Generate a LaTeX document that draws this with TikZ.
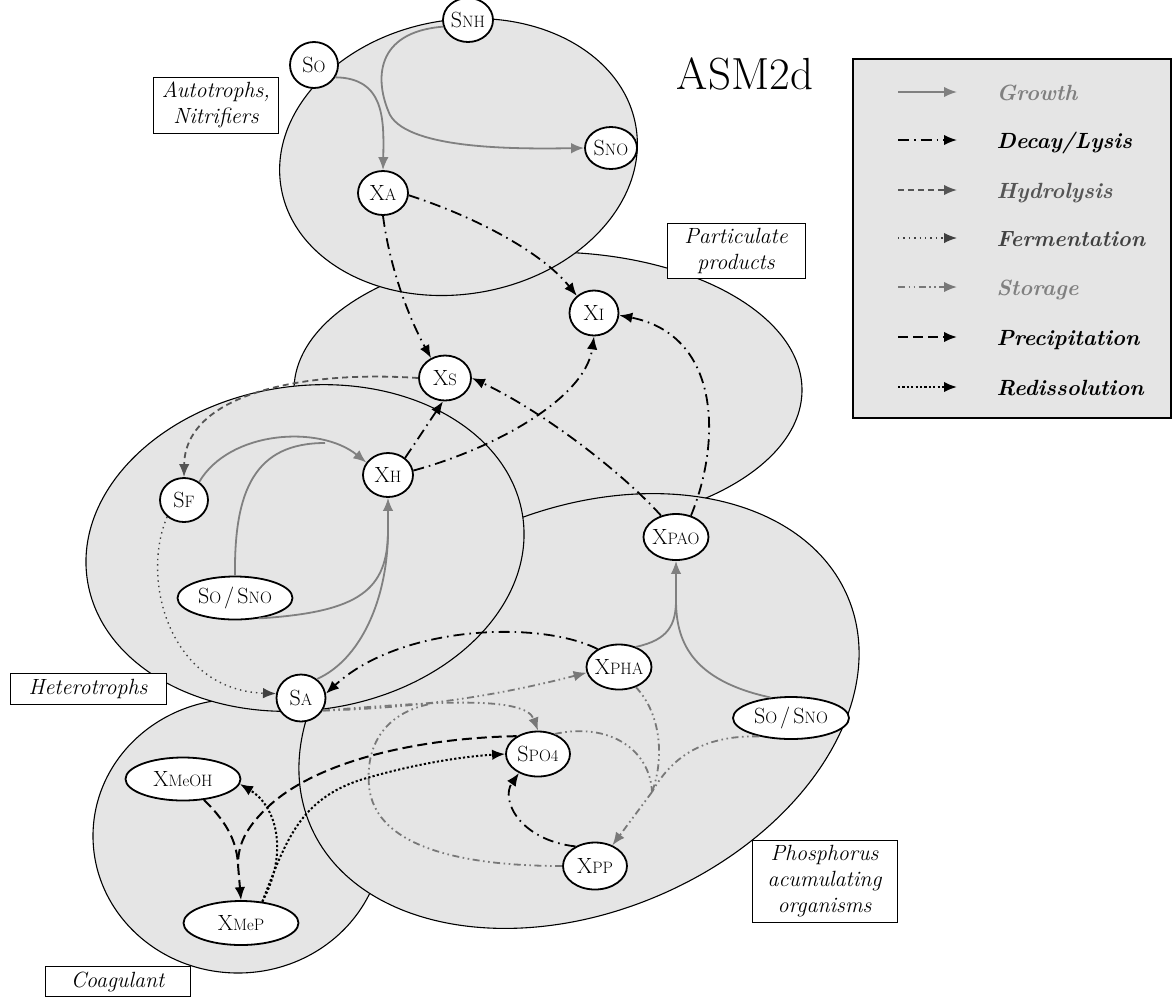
\documentclass[tikz,border=0pt]{standalone}
\usetikzlibrary{arrows.meta,shapes.geometric}
\definecolor{regfill}{RGB}{229,229,229}
\definecolor{grw}{RGB}{128,128,128}
\definecolor{hyd}{RGB}{85,85,85}
\definecolor{fer}{RGB}{64,64,64}
\definecolor{sto}{RGB}{120,120,120}
\newcommand{\nsub}[2]{#1{\fontsize{16.5}{17}\selectfont #2}}
\newcommand{\nsl}{\hspace{3pt}/\hspace{3pt}}
\begin{document}
\begin{tikzpicture}[x=1pt,y=-1pt,
  region/.style={draw=black, line width=1.1pt, fill=regfill},
  nd/.style={ellipse, draw=black, line width=1.8pt, fill=white, inner sep=-3pt, font=\fontsize{22}{24}\selectfont},
  lbl/.style={draw=black, line width=1pt, fill=white, align=center, inner sep=0pt, font=\fontsize{22}{26}\selectfont\itshape},
  tipa/.style={-{Latex[length=13pt,width=10.5pt]}},
  gline/.style={draw=grw, line width=1.8pt},
  growth/.style={gline, tipa},
  decay/.style={tipa, draw=black, line width=1.8pt, dash pattern=on 11pt off 5pt on 1.6pt off 5pt},
  hydro/.style={tipa, draw=hyd, line width=1.8pt, dash pattern=on 6pt off 4pt},
  ferm/.style={tipa, draw=fer, line width=1.4pt, dash pattern=on 1.4pt off 4pt},
  sline/.style={draw=sto, line width=1.8pt, dash pattern=on 7pt off 3.5pt on 1.6pt off 3.5pt on 1.6pt off 3.5pt},
  stor/.style={sline, tipa},
  pline/.style={draw=black, line width=2pt, dash pattern=on 10pt off 5pt},
  precip/.style={pline, tipa},
  rediss/.style={tipa, draw=black, line width=2pt, dash pattern=on 2.2pt off 2.2pt},
  legtxt/.style={anchor=base west, font=\fontsize{22}{24}\selectfont\bfseries\itshape},
]
\useasboundingbox (0,0) rectangle (1172,997);

% regions
\draw[region] (238,836) ellipse [x radius=145pt, y radius=137pt];
\draw[region] (548,390) ellipse [x radius=254pt, y radius=138pt];
\draw[region, rotate around={23:(579,711)}] (579,711) ellipse [x radius=292pt, y radius=201pt];
\draw[region, rotate around={8:(305,548)}] (305,548) ellipse [x radius=220pt, y radius=162pt];
\draw[region, rotate around={10:(458.5,157)}] (458.5,157) ellipse [x radius=180pt, y radius=137pt];

% labels
\node[lbl, minimum width=125pt, minimum height=56pt] (lAuto) at (216,105) {Autotrophs,\\Nitrifiers};
\node[lbl, minimum width=138pt, minimum height=55pt] (lPart) at (736,250.5) {Particulate\\products};
\node[lbl, minimum width=156pt, minimum height=31pt] (lHet) at (88,688.5) {Heterotrophs};
\node[lbl, minimum width=145pt, minimum height=30pt] (lCoag) at (117.5,981.5) {Coagulant};
\node[lbl, minimum width=145pt, minimum height=82pt] (lPhos) at (824.5,881) {Phosphorus\\acumulating\\organisms};
\node[font=\fontsize{45}{48}\selectfont] (title) at (745,74) {ASM2d};

% legend
\node[draw=black, line width=1.3pt, fill=regfill, minimum width=318pt, minimum height=359pt, inner sep=0pt] (leg) at (1012,238.5) {};
\coordinate (a1) at (898,92);  \coordinate (b1) at (957,92);
\coordinate (a2) at (898,140); \coordinate (b2) at (957,140);
\coordinate (a3) at (898,190); \coordinate (b3) at (957,190);
\coordinate (a4) at (898,238); \coordinate (b4) at (957,238);
\coordinate (a5) at (898,287); \coordinate (b5) at (957,287);
\coordinate (a6) at (898,337); \coordinate (b6) at (957,337);
\coordinate (a7) at (898,387); \coordinate (b7) at (957,387);
\draw[growth] (a1) -- (b1);
\draw[decay] (a2) -- (b2);
\draw[hydro] (a3) -- (b3);
\draw[ferm] (a4) -- (b4);
\draw[stor] (a5) -- (b5);
\draw[precip] (a6) -- (b6);
\draw[rediss] (a7) -- (b7);
\node[legtxt, text=grw] (t1) at (993,100) {Growth};
\node[legtxt, text=black] (t2) at (993,148) {Decay/Lysis};
\node[legtxt, text=hyd] (t3) at (993,198) {Hydrolysis};
\node[legtxt, text=fer] (t4) at (993,246) {Fermentation};
\node[legtxt, text=grw] (t5) at (993,295) {Storage};
\node[legtxt, text=black] (t6) at (993,345) {Precipitation};
\node[legtxt, text=black] (t7) at (993,395) {Redissolution};

% nodes
\node[nd, minimum width=48pt, minimum height=46pt] (SO1) at (314,65) {\nsub{S}{O}};
\node[nd, minimum width=50pt, minimum height=44pt] (SNH) at (468,20) {\nsub{S}{NH}};
\node[nd, minimum width=52pt, minimum height=42pt] (SNO) at (611,148) {\nsub{S}{NO}};
\node[nd, minimum width=50pt, minimum height=44pt] (XA) at (383,193) {\nsub{X}{A}};
\node[nd, minimum width=49pt, minimum height=45pt] (XI) at (594,313) {\nsub{X}{I}};
\node[nd, minimum width=52pt, minimum height=45pt] (XS) at (445,378) {\nsub{X}{S}};
\node[nd, minimum width=50pt, minimum height=44pt] (XH) at (388,475) {\nsub{X}{H}};
\node[nd, minimum width=48pt, minimum height=44pt] (SF) at (184,500) {\nsub{S}{F}};
\node[nd, minimum width=115pt, minimum height=43pt] (SOL) at (235,598) {\nsub{S}{O}\nsl\nsub{S}{NO}};
\node[nd, minimum width=49pt, minimum height=47pt] (SA) at (301,698) {\nsub{S}{A}};
\node[nd, minimum width=65pt, minimum height=46pt] (XPAO) at (676,537) {\nsub{X}{PAO}};
\node[nd, minimum width=65pt, minimum height=45pt] (XPHA) at (619,667) {\nsub{X}{PHA}};
\node[nd, minimum width=116pt, minimum height=42pt] (SOR) at (791,718) {\nsub{S}{O}\nsl\nsub{S}{NO}};
\node[nd, minimum width=64pt, minimum height=45pt] (SPO) at (538,754) {\nsub{S}{PO4}};
\node[nd, minimum width=64pt, minimum height=47pt] (XPP) at (595,866) {\nsub{X}{PP}};
\node[nd, minimum width=115pt, minimum height=43pt] (XMeOH) at (183,779) {\nsub{X}{MeOH}};
\node[nd, minimum width=115pt, minimum height=44pt] (XMeP) at (241,923) {\nsub{X}{MeP}};

% merge points
\coordinate (mH1) at (325,443);
\coordinate (mH2) at (388,530);
\coordinate (mP) at (676,600);
\coordinate (mX) at (652,792);
\coordinate (mS) at (430,704);
\coordinate (mM) at (238,865);

% growth
\draw[growth] (SO1.-30) .. controls (385,78) and (384,120) .. (XA.north);
\draw[growth] (SNH.195) .. controls (375,32) and (374,80) .. (390,115) .. controls (410,150) and (520,149) .. (SNO.west);
\draw[growth] (SF.50) .. controls (230,430) and (320,425) .. (XH.150);
\draw[gline] (SOL.north) .. controls (234,490) and (255,443) .. (mH1);
\draw[gline] (SOL.-40) .. controls (360,612) and (388,590) .. (mH2);
\draw[gline] (SA.50) .. controls (360,660) and (388,600) .. (mH2);
\draw[growth] (mH2) -- (XH.south);
\draw[gline] (XPHA.50) .. controls (668,640) and (676,625) .. (mP);
\draw[gline] (SOR.135) .. controls (690,680) and (676,640) .. (mP);
\draw[growth] (mP) -- (XPAO.south);

% decay / lysis
\draw[decay] (XA.-5) .. controls (470,215) and (540,250) .. (XI.135);
\draw[decay] (XA.south) .. controls (390,270) and (410,320) .. (XS.125);
\draw[decay] (XH.45) -- (XS.-95);
\draw[decay] (XH.10) .. controls (490,450) and (585,400) .. (XI.south);
\draw[decay] (XPAO.125) .. controls (620,470) and (540,410) .. (XS.east);
\draw[decay] (XPAO.55) .. controls (722,440) and (720,335) .. (XI.-5);
\draw[decay] (XPHA.140) .. controls (540,620) and (400,625) .. (SA.10);
\draw[decay] (XPP.135) .. controls (520,840) and (500,800) .. (SPO.-135);

% hydrolysis, fermentation
\draw[hydro] (XS.west) .. controls (300,370) and (185,395) .. (SF.north);
\draw[ferm] (SF.-135) .. controls (140,580) and (170,690) .. (SA.170);

% storage
\draw[stor] (SA.-30) .. controls (420,708) and (500,695) .. (XPHA.190);
\draw[stor] (SA.-30) .. controls (430,702) and (525,695) .. (SPO.north);
\draw[sline] (XPP.west) .. controls (470,866) and (375,850) .. (369,786) .. controls (365,740) and (390,712) .. (mS);
\draw[sline] (SPO.50) .. controls (610,722) and (650,750) .. (mX);
\draw[sline] (XPHA.-50) .. controls (662,715) and (664,760) .. (mX);
\draw[sline] (SOR.210) .. controls (700,735) and (670,760) .. (mX);
\draw[stor] (mX) -- (XPP.50);

% precipitation
\draw[pline] (XMeOH.-45) .. controls (230,825) and (237,845) .. (mM);
\draw[pline] (SPO.140) .. controls (420,738) and (320,760) .. (270,805) .. controls (245,828) and (238,845) .. (mM);
\draw[precip] (mM) -- (XMeP.north);

% redissolution
\draw[rediss] (XMeP.45) .. controls (286,840) and (300,800) .. (360,780) .. controls (420,762) and (470,756) .. (SPO.west);
\draw[rediss] (XMeP.45) .. controls (290,850) and (275,805) .. (XMeOH.-5);
\end{tikzpicture}
\end{document}
